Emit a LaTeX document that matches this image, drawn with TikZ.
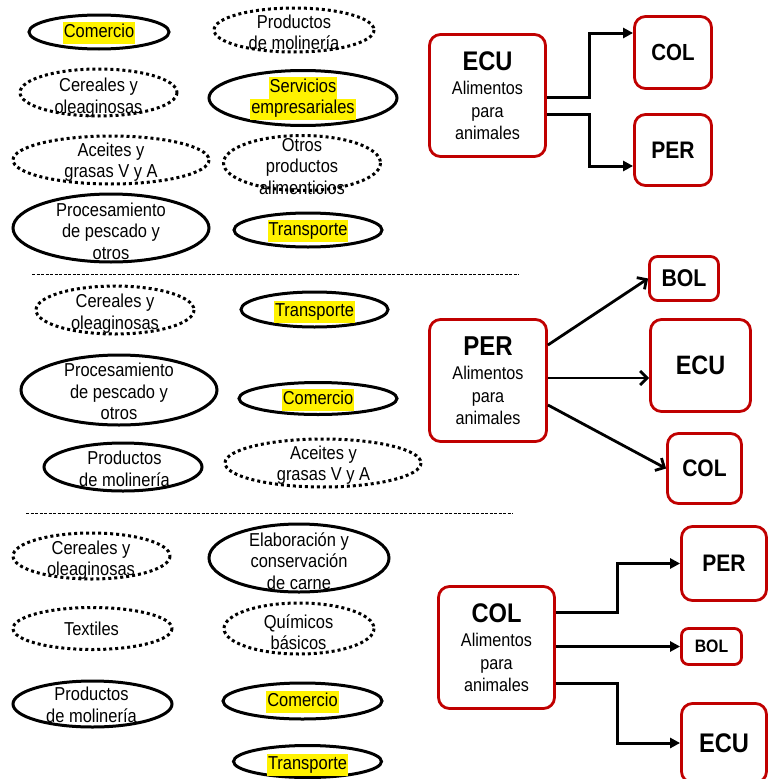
\documentclass[tikz,border=0pt]{standalone}
\usepackage{fontspec}
\setmainfont[FakeStretch=0.88]{Liberation Sans}
\usetikzlibrary{arrows.meta}
\definecolor{cajarojo}{RGB}{192,0,0}
\newcommand{\marca}[1]{{\setlength{\fboxsep}{0pt}\colorbox{yellow}{\strut\kern1pt #1\kern1pt}}}

\begin{document}
\begin{tikzpicture}[x=1pt, y=-1pt,
    lbl/.style={align=center, inner sep=0pt, font=\fontsize{18.7}{21.5}\selectfont},
    oval/.style={line width=3pt},
    dotoval/.style={line width=3pt, dash pattern=on 3pt off 3pt},
    caja/.style={draw=cajarojo, line width=2.8pt, rounded corners=11pt, align=center, inner sep=0pt,
      font=\fontsize{18.4}{22.5}\selectfont},
    titulo/.style={font=\fontsize{#1}{28}\selectfont\bfseries},
    flecha/.style={line width=3pt, -{Triangle[length=10pt,width=10pt]}},
    flechab/.style={line width=2.8pt, -{Straight Barb[length=7pt,width=14pt]}},
    sep/.style={line width=0.8pt, dash pattern=on 3pt off 1.5pt}]

  \useasboundingbox (0,0) rectangle (769,779);

  % ---- ECU
  \begin{scope}
    \draw[oval] (99,32) ellipse [x radius=70, y radius=17];
    \node[lbl] (com1) at (99,33) {\marca{Comercio}};
    \draw[dotoval] (294,30) ellipse [x radius=80, y radius=22];
    \node[lbl] (mol1) at (294,32.5) {Productos\\de molinería};
    \draw[dotoval] (98.5,92.5) ellipse [x radius=78.5, y radius=23.5];
    \node[lbl] (cer1) at (98.5,97.5) {Cereales y\\oleaginosas};
    \draw[oval] (303,98) ellipse [x radius=94, y radius=27.5];
    \node[lbl] (ser1) at (303,98.5) {\marca{Servicios}\\\marca{empresariales}};
    \draw[dotoval] (111,160) ellipse [x radius=98, y radius=24];
    \node[lbl] (ace1) at (111,162) {Aceites y\\grasas V y A};
    \draw[dotoval] (302,163) ellipse [x radius=78.5, y radius=27.5];
    \node[lbl] (otr1) at (302,166.5) {Otros\\productos\\alimenticios};
    \draw[oval] (111,228) ellipse [x radius=98, y radius=34];
    \node[lbl] (pro1) at (111,231) {Procesamiento\\de pescado y\\otros};
    \draw[oval] (308,230) ellipse [x radius=74, y radius=17];
    \node[lbl] (tra1) at (308,231) {\marca{Transporte}};

    \node[caja, minimum width=116, minimum height=122] (ecu1) at (487.5,95.5)
      {{\fontsize{26.9}{28}\selectfont\bfseries ECU}\\[2pt]Alimentos\\para\\animales};
    \node[caja, minimum width=77, minimum height=72, titulo=23.3] (col1) at (673,52.5) {COL};
    \node[caja, minimum width=77, minimum height=71, titulo=23.9] (per1) at (673,150) {PER};

    \draw[flecha] ([yshift=-1.5pt]ecu1.east) -- ++(43,0) |- ([yshift=19.5pt]col1.west);
    \draw[flecha] ([yshift=-18.5pt]ecu1.east) -- ++(43,0) |- ([yshift=-16pt]per1.west);
  \end{scope}

  \draw[sep] (32,274) -- (519,274);

  % ---- PER
  \begin{scope}
    \draw[dotoval] (115,310) ellipse [x radius=79, y radius=24];
    \node[lbl] (cer2) at (115,313.5) {Cereales y\\oleaginosas};
    \draw[oval] (314.5,309.5) ellipse [x radius=73.5, y radius=17.5];
    \node[lbl] (tra2) at (314.5,312) {\marca{Transporte}};
    \draw[oval] (119,390) ellipse [x radius=98, y radius=35];
    \node[lbl] (pro2) at (119,391.5) {Procesamiento\\de pescado y\\otros};
    \draw[oval] (318,398.5) ellipse [x radius=79, y radius=16];
    \node[lbl] (com2) at (318,400) {\marca{Comercio}};
    \draw[oval] (123,467) ellipse [x radius=79, y radius=24];
    \node[lbl] (mol2) at (124.5,469) {Productos\\de molinería};
    \draw[dotoval] (323,463) ellipse [x radius=98, y radius=24];
    \node[lbl] (ace2) at (323.5,465) {Aceites y\\grasas V y A};

    \node[caja, minimum width=117, minimum height=122] (per2) at (488,380.5)
      {{\fontsize{27.3}{28}\selectfont\bfseries PER}\\[2pt]Alimentos\\para\\animales};
    \node[caja, minimum width=69, minimum height=44, rounded corners=8pt, titulo=24.2] (bol2) at (684,278.5) {BOL};
    \node[caja, minimum width=100, minimum height=92, titulo=26.6] (ecu2) at (700.5,365.5) {ECU};
    \node[caja, minimum width=74, minimum height=70, titulo=23.9] (col2) at (704.5,468.5) {COL};

    \draw[flechab] ([yshift=35.5pt]per2.east) -- (bol2.west);
    \draw[flechab] ([yshift=2.5pt]per2.east) -- ([yshift=-12.5pt]ecu2.west);
    \draw[flechab] ([yshift=-24.5pt]per2.east) -- (col2.west);
  \end{scope}

  \draw[sep] (26,513) -- (513,513);

  % ---- COL
  \begin{scope}
    \draw[dotoval] (91.5,556) ellipse [x radius=78.5, y radius=23];
    \node[lbl] (cer3) at (91,560) {Cereales y\\oleaginosas};
    \draw[oval] (299,558) ellipse [x radius=90, y radius=34];
    \node[lbl] (ela3) at (299,561) {Elaboración y\\conservación\\de carne};
    \draw[dotoval] (92.5,628.5) ellipse [x radius=79.5, y radius=21];
    \node[lbl] (tex3) at (91.5,629) {Textiles};
    \draw[dotoval] (299,628.5) ellipse [x radius=75, y radius=25.5];
    \node[lbl] (qui3) at (298.5,632) {Químicos\\básicos};
    \draw[oval] (92.5,704) ellipse [x radius=79.5, y radius=23];
    \node[lbl] (mol3) at (91.5,705) {Productos\\de molinería};
    \draw[oval] (302.5,701) ellipse [x radius=79.5, y radius=18];
    \node[lbl] (com3) at (302.5,702) {\marca{Comercio}};
    \draw[oval] (307.5,761.5) ellipse [x radius=74, y radius=16];
    \node[lbl] (tra3) at (307.5,765) {\marca{Transporte}};

    \node[caja, minimum width=116, minimum height=122] (col3) at (496.5,647.5)
      {{\fontsize{26.9}{28}\selectfont\bfseries COL}\\[2pt]Alimentos\\para\\animales};
    \node[caja, minimum width=85, minimum height=74, titulo=23.9] (per3) at (724,563.5) {PER};
    \node[caja, minimum width=60, minimum height=36, rounded corners=7pt, titulo=18] (bol3) at (711.5,646.5) {BOL};
    \node[caja, minimum width=85, minimum height=79, titulo=26.9] (ecu3) at (724,743) {ECU};

    \draw[flecha] ([yshift=35.5pt]col3.east) -- ++(62,0) |- (per3.west);
    \draw[flecha] ([yshift=1pt]col3.east) -- (bol3.west);
    \draw[flecha] ([yshift=-35.5pt]col3.east) -- ++(62,0) |- (ecu3.west);
  \end{scope}
\end{tikzpicture}
\end{document}
